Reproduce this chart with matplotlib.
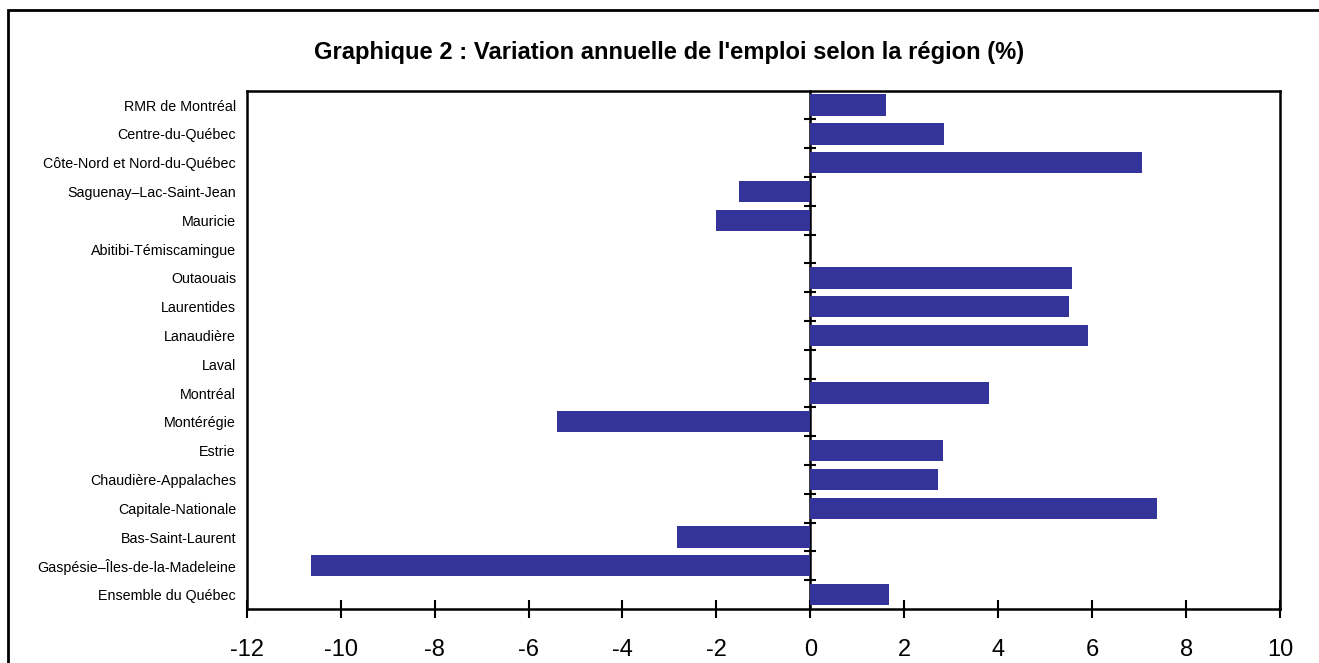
import matplotlib
matplotlib.use("Agg")
import matplotlib.pyplot as plt
from matplotlib.patches import Rectangle
import numpy as np

plt.rcParams['font.family'] = ['Liberation Sans', 'DejaVu Sans']

# Categories listed top to bottom as in the chart
regions = [
    "RMR de Montréal",
    "Centre-du-Québec",
    "Côte-Nord et Nord-du-Québec",
    "Saguenay–Lac-Saint-Jean",
    "Mauricie",
    "Abitibi-Témiscamingue",
    "Outaouais",
    "Laurentides",
    "Lanaudière",
    "Laval",
    "Montréal",
    "Montérégie",
    "Estrie",
    "Chaudière-Appalaches",
    "Capitale-Nationale",
    "Bas-Saint-Laurent",
    "Gaspésie–Îles-de-la-Madeleine",
    "Ensemble du Québec",
]
variation = [1.62, 2.85, 7.07, -1.51, -2.01, 0.0, 5.57, 5.51, 5.91, 0.0,
             3.80, -5.39, 2.83, 2.72, 7.39, -2.83, -10.64, 1.68]
x_ticks = [-12, -10, -8, -6, -4, -2, 0, 2, 4, 6, 8, 10]
title = "Graphique 2 : Variation annuelle de l'emploi selon la région (%)"

W, H = 1319, 663
fig = plt.figure(figsize=(W / 100, H / 100), dpi=100)
ax = fig.add_axes([246.7 / W, 1 - 609 / H, (1280 - 246.7) / W, (609 - 90.7) / H])

n = len(regions)
ypos = np.arange(n)[::-1]  # first item on top
ax.barh(ypos, variation, height=0.74, color='#333399', edgecolor='none', zorder=2)

ax.set_xlim(x_ticks[0], x_ticks[-1])
ax.set_ylim(-0.5, n - 0.5)
ax.set_xticks(x_ticks)
ax.set_xticklabels([str(t) for t in x_ticks], fontsize=17)
ax.tick_params(axis='x', direction='inout', length=13, width=1.5, pad=15, colors='black')
ax.set_yticks(ypos)
ax.set_yticklabels(regions, fontsize=10.3)
ax.tick_params(axis='y', length=0, pad=7.7)

for s in ax.spines.values():
    s.set_linewidth(1.8)
    s.set_color('black')

# Vertical axis at zero with tick marks between categories
sec = ax.secondary_yaxis(0, transform=ax.transData)
sec.set_yticks(np.arange(n - 1) + 0.5)
sec.set_yticklabels([])
sec.tick_params(axis='y', direction='inout', length=8, width=1.5)
sec.spines['left'].set_linewidth(1.8)

fig.text(0.5076, 1 - 53 / H, title, ha='center', va='center',
         fontsize=17.1, fontweight='bold')

# outer chart frame (extends past right and bottom edges)
fig.patches.append(Rectangle((8 / W, -0.2), 1.2, 1.2 - 10 / H,
                             transform=fig.transFigure, fill=False,
                             edgecolor='black', linewidth=2, clip_on=False))

fig.savefig("out.png", dpi=100)
